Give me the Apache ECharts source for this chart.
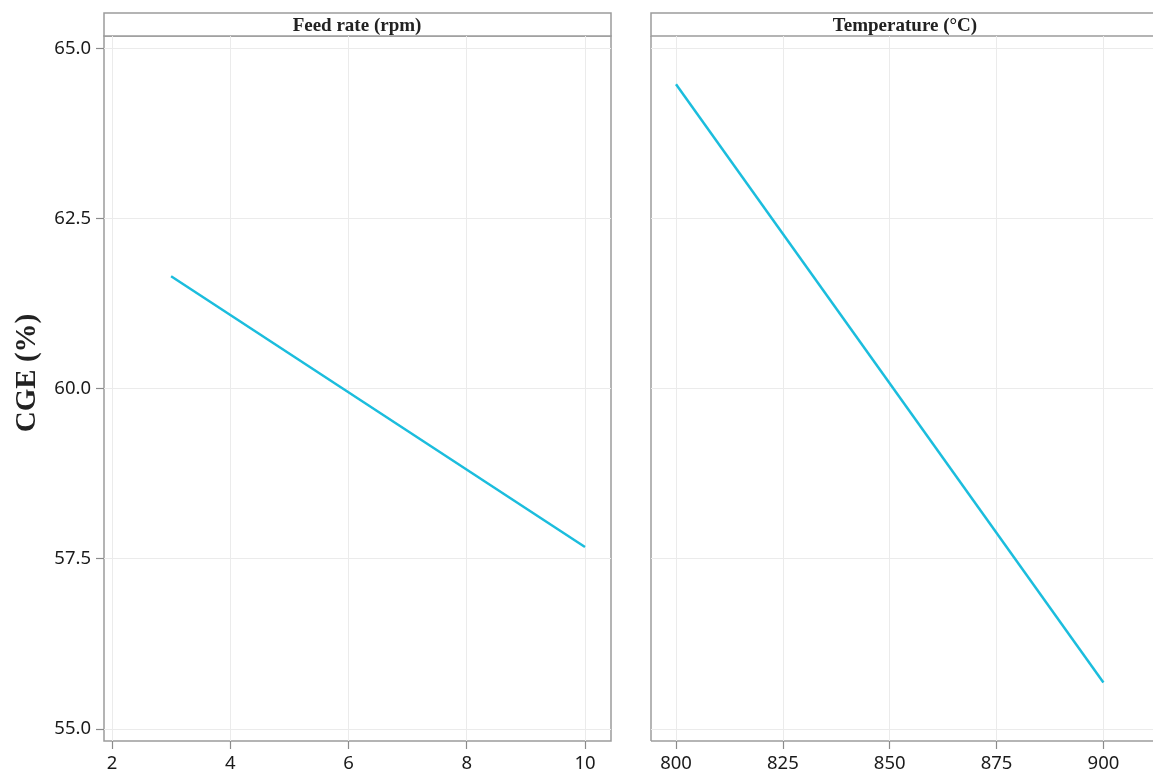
<!DOCTYPE html>
<html>
<head>
<meta charset="utf-8">
<script src="https://cdn.jsdelivr.net/npm/echarts@6/dist/echarts.min.js"></script>
<style>html,body{margin:0;padding:0;background:#fff}#c{width:1153px;height:774px}</style>
</head>
<body>
<div id="c"></div>
<script>
const panelTitles = ['Feed rate (rpm)', 'Temperature (\u00B0C)'];
const yTitle = 'CGE (%)';
const feedRate = [3, 10];
const cgeFeed = [61.65, 57.67];
const temperature = [800, 900];
const cgeTemp = [64.47, 55.68];
const yTicks = [55.0, 57.5, 60.0, 62.5, 65.0];
const feedTicks = [2, 4, 6, 8, 10];
const tempTicks = [800, 825, 850, 875, 900];

// axis extents of the panels (panel edges)
const yRange = [54.82, 65.18];
const feedRange = [1.865, 10.44];
const tempRange = [794.15, 911.6];

// panel layout
const P = { top: 36, height: 705, left0: 104, width0: 507, left1: 651, width1: 502 };

const chart = echarts.init(document.getElementById('c'));
const border = '#9c9c9c';
const gridColor = '#ebebeb';
const tickColor = '#8a8a8a';
const tickFont = { fontFamily: 'Noto Sans', fontSize: 18.5, color: '#1a1a1a' };

function sub(range, lo, hi, start, len) {
  const f0 = (lo - range[0]) / (range[1] - range[0]);
  const f1 = (hi - range[0]) / (range[1] - range[0]);
  return { start: start + f0 * len, len: (f1 - f0) * len };
}
const yT = sub(yRange, yTicks[0], yTicks[yTicks.length - 1], 0, P.height); // from bottom
const fT = sub(feedRange, feedTicks[0], feedTicks[feedTicks.length - 1], P.left0, P.width0);
const tT = sub(tempRange, tempTicks[0], tempTicks[tempTicks.length - 1], P.left1, P.width1);

const hidden = { show: false };
function plainAxis(idx, range) {
  return { type: 'value', gridIndex: idx, min: range[0], max: range[1], show: false };
}
function gridAxis(idx, range, ticks) {
  return {
    type: 'value', gridIndex: idx, min: range[0], max: range[1],
    axisLine: hidden, axisLabel: hidden,
    axisTick: { show: false, customValues: ticks },
    splitLine: { show: true, lineStyle: { color: gridColor, width: 1 } }
  };
}
function tickAxis(idx, ticks, pos) {
  return {
    type: 'value', gridIndex: idx, min: ticks[0], max: ticks[ticks.length - 1],
    interval: ticks[1] - ticks[0], position: pos,
    axisLine: hidden, splitLine: hidden,
    axisTick: { show: true, length: 8, lineStyle: { color: tickColor, width: 1.2 } },
    axisLabel: Object.assign({ margin: 13, formatter: pos === 'left' ? (v => v.toFixed(1)) : (v => String(v)) }, tickFont)
  };
}

chart.setOption({
  animation: false,
  grid: [
    { left: P.left0, top: P.top, width: P.width0, height: P.height, show: true, borderColor: border, borderWidth: 1.5 },
    { left: P.left1, top: P.top, width: P.width1, height: P.height, show: false },
    // tick overlays
    { left: P.left0, top: P.top + P.height - yT.start - yT.len, width: P.width0, height: yT.len },
    { left: fT.start, top: P.top, width: fT.len, height: P.height },
    { left: tT.start, top: P.top, width: tT.len, height: P.height }
  ],
  xAxis: [
    gridAxis(0, feedRange, feedTicks),
    gridAxis(1, tempRange, tempTicks),
    plainAxis(2, [0, 1]),
    tickAxis(3, feedTicks, 'bottom'),
    tickAxis(4, tempTicks, 'bottom')
  ],
  yAxis: [
    gridAxis(0, yRange, yTicks),
    gridAxis(1, yRange, yTicks),
    tickAxis(2, yTicks, 'left'),
    plainAxis(3, [0, 1]),
    plainAxis(4, [0, 1])
  ],
  series: [
    { type: 'line', xAxisIndex: 0, yAxisIndex: 0, showSymbol: false, symbol: 'none',
      data: feedRate.map((x, i) => [x, cgeFeed[i]]),
      lineStyle: { color: '#1bbddd', width: 2.5 } },
    { type: 'line', xAxisIndex: 1, yAxisIndex: 1, showSymbol: false, symbol: 'none',
      data: temperature.map((x, i) => [x, cgeTemp[i]]),
      lineStyle: { color: '#1bbddd', width: 2.5 } }
  ],
  graphic: [
    { type: 'rect', shape: { x: P.left0, y: 13, width: P.width0, height: 23 }, style: { fill: '#fff', stroke: border, lineWidth: 1.5 } },
    { type: 'rect', shape: { x: P.left1, y: 13, width: 510, height: 23 }, style: { fill: '#fff', stroke: border, lineWidth: 1.5 } },
    { type: 'line', shape: { x1: P.left1, y1: P.top, x2: P.left1, y2: P.top + P.height }, style: { stroke: border, lineWidth: 1.5 } },
    { type: 'line', shape: { x1: P.left1, y1: P.top + P.height, x2: 1160, y2: P.top + P.height }, style: { stroke: border, lineWidth: 1.5 } },
    { type: 'text', x: 357, y: 26, style: { text: panelTitles[0], textAlign: 'center', textVerticalAlign: 'middle',
      fontFamily: 'Liberation Serif', fontWeight: 'bold', fontSize: 19, fill: '#222' } },
    { type: 'text', x: 905, y: 26, style: { text: panelTitles[1], textAlign: 'center', textVerticalAlign: 'middle',
      fontFamily: 'Liberation Serif', fontWeight: 'bold', fontSize: 19, fill: '#222' } },
    { type: 'text', x: 28, y: 373, rotation: Math.PI / 2, style: { text: yTitle, textAlign: 'center', textVerticalAlign: 'middle',
      fontFamily: 'Liberation Serif', fontWeight: 'bold', fontSize: 29, fill: '#222' } }
  ]
});
</script>
</body>
</html>
